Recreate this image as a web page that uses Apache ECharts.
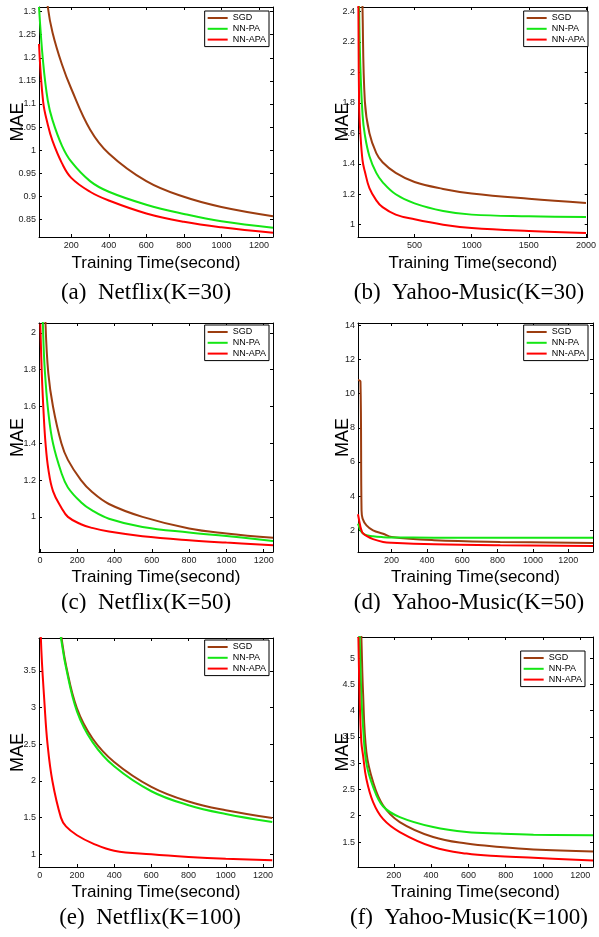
<!DOCTYPE html>
<html>
<head>
<meta charset="UTF-8">
<title>MAE vs Training Time</title>
<script src="https://cdn.jsdelivr.net/npm/echarts@6/dist/echarts.min.js"></script>
<style type="text/css">
html, body {
	width: 100%;
	height: 100%;
	padding: 0px;
	margin: 0px;
	background: #fff;
}
</style>
</head>
<body>
	<div id="chart" style="width: 599px; height: 937px;"></div>

	<script type="text/javascript">
        // series names / colors
        var seriesNames = ['SGD', 'NN-PA', 'NN-APA'];
        var seriesColors = ['#9c3d10', '#14e614', '#ff0000'];

        // (a) Netflix K=30
        var timeA = [28, 50, 75, 100, 150, 200, 300, 400, 600, 800, 1000, 1275];
        var sgdA = [1.6, 1.42, 1.31, 1.255, 1.186, 1.133, 1.045, 0.993, 0.933, 0.899, 0.877, 0.857];
        var paA = [1.31, 1.19, 1.107, 1.065, 1.01, 0.975, 0.933, 0.91, 0.882, 0.862, 0.846, 0.832];
        var apaA = [1.23, 1.105, 1.055, 1.02, 0.972, 0.94, 0.91, 0.891, 0.863, 0.845, 0.833, 0.821];
        var xTicksA = [200, 400, 600, 800, 1000, 1200];
        var yTicksA = [0.85, 0.9, 0.95, 1, 1.05, 1.1, 1.15, 1.2, 1.25, 1.3];

        // (b) Yahoo-Music K=30
        var timeB = [8, 15, 25, 45, 65, 105, 165, 220, 335, 500, 750, 1000, 1500, 2000];
        var sgdB = [5, 4, 3.3, 2.4, 1.81, 1.6, 1.47, 1.41, 1.34, 1.28, 1.235, 1.205, 1.17, 1.142];
        var paB = [3.0, 2.4, 2.05, 1.72, 1.59, 1.45, 1.34, 1.28, 1.2, 1.14, 1.09, 1.066, 1.055, 1.05];
        var apaB = [2.5, 1.78, 1.61, 1.42, 1.35, 1.24, 1.16, 1.115, 1.066, 1.035, 1.0, 0.978, 0.958, 0.945];
        var xTicksB = [500, 1000, 1500, 2000];
        var yTicksB = [1, 1.2, 1.4, 1.6, 1.8, 2, 2.2, 2.4];

        // (c) Netflix K=50
        var timeC = [2, 10, 20, 30, 45, 70, 115, 150, 220, 280, 370, 550, 800, 1000, 1250];
        var sgdC = [4, 3.2, 2.5, 2.05, 1.78, 1.6, 1.4, 1.31, 1.2, 1.135, 1.07, 1.0, 0.937, 0.91, 0.886];
        var paC = [3.0, 2.3, 1.92, 1.74, 1.57, 1.4, 1.24, 1.16, 1.08, 1.035, 0.99, 0.945, 0.915, 0.896, 0.869];
        var apaC = [2.05, 1.78, 1.56, 1.4, 1.26, 1.14, 1.05, 1.0, 0.96, 0.94, 0.92, 0.895, 0.873, 0.86, 0.846];
        var xTicksC = [0, 200, 400, 600, 800, 1000, 1200];
        var yTicksC = [1, 1.2, 1.4, 1.6, 1.8, 2];

        // (d) Yahoo-Music K=50
        var timeD = [10, 24, 30, 36, 58, 95, 152, 200, 440, 815, 1340];
        var sgdD = [10.8, 10.7, 3.2, 2.68, 2.29, 2.0, 1.8, 1.61, 1.42, 1.32, 1.26];
        var paD = [2.39, 2.0, 1.9, 1.84, 1.72, 1.65, 1.6, 1.58, 1.57, 1.56, 1.56];
        var apaD = [2.94, 2.19, 2.0, 1.85, 1.67, 1.48, 1.32, 1.27, 1.18, 1.12, 1.08];
        var xTicksD = [200, 400, 600, 800, 1000, 1200];
        var yTicksD = [2, 4, 6, 8, 10, 12, 14];

        // (e) Netflix K=100
        var timeE = [0, 6, 27, 42, 68, 114, 141, 200, 284, 400, 600, 800, 1000, 1250];
        var sgdE = [9, 8, 6.5, 5.6, 4.7, 4.0, 3.58, 2.99, 2.58, 2.26, 1.92, 1.72, 1.6, 1.495];
        var paE = [9, 7.8, 6.4, 5.5, 4.6, 3.95, 3.55, 2.95, 2.53, 2.2, 1.86, 1.67, 1.55, 1.44];
        var apaE = [5, 3.95, 3.0, 2.5, 2.0, 1.5, 1.38, 1.26, 1.15, 1.05, 1.0, 0.965, 0.94, 0.92];
        var xTicksE = [0, 200, 400, 600, 800, 1000, 1200];
        var yTicksE = [1, 1.5, 2, 2.5, 3, 3.5];

        // (f) Yahoo-Music K=100
        var timeF = [10, 17, 26, 35, 53, 89, 142, 232, 411, 590, 770, 949, 1268];
        var sgdF = [7, 6.2, 5.4, 4.35, 3.21, 2.64, 2.2, 1.88, 1.595, 1.47, 1.405, 1.36, 1.32];
        var paF = [6.5, 5.4, 4.3, 3.7, 3.0, 2.55, 2.18, 1.975, 1.785, 1.69, 1.66, 1.64, 1.627];
        var apaF = [5.4, 4.2, 3.4, 3.15, 2.7, 2.26, 1.94, 1.69, 1.405, 1.28, 1.23, 1.2, 1.15];
        var xTicksF = [200, 400, 600, 800, 1000, 1200];
        var yTicksF = [1.5, 2, 2.5, 3, 3.5, 4, 4.5, 5];

        var captions = ['(a)  Netflix(K=30)', '(b)  Yahoo-Music(K=30)', '(c)  Netflix(K=50)',
                        '(d)  Yahoo-Music(K=50)', '(e)  Netflix(K=100)', '(f)  Yahoo-Music(K=100)'];

        // layout of each subplot
        var panels = [
            {time: timeA, vals: [sgdA, paA, apaA], xr: [28, 1275], yr: [0.812, 1.31], xt: xTicksA, yt: yTicksA,
             box: [39, 7, 234, 230], leg: [330, 11], cap: [146, 281], xGap: 18, yGap: 12},
            {time: timeB, vals: [sgdB, paB, apaB], xr: [5, 2015], yr: [0.919, 2.43], xt: xTicksB, yt: yTicksB,
             box: [358, 7, 235, 230], leg: [11, 11], cap: [469, 281], xGap: 18, yGap: 6},
            {time: timeC, vals: [sgdC, paC, apaC], xr: [-5, 1250], yr: [0.809, 2.054], xt: xTicksC, yt: yTicksC,
             box: [39, 323, 234, 229], leg: [330, 325], cap: [146, 591], xGap: 17, yGap: 12},
            {time: timeD, vals: [sgdD, paD, apaD], xr: [10, 1340], yr: [0.73, 14.13], xt: xTicksD, yt: yTicksD,
             box: [358, 323, 235, 229], leg: [11, 325], cap: [469, 591], xGap: 17, yGap: 6},
            {time: timeE, vals: [sgdE, paE, apaE], xr: [-4, 1254], yr: [0.827, 3.95], xt: xTicksE, yt: yTicksE,
             box: [39, 638, 234, 229], leg: [330, 640], cap: [150, 906], xGap: 17, yGap: 12},
            {time: timeF, vals: [sgdF, paF, apaF], xr: [8, 1268], yr: [1.025, 5.4], xt: xTicksF, yt: yTicksF,
             box: [358, 637, 235, 230], leg: [14, 651], cap: [469, 906], xGap: 17, yGap: 6}
        ];

        var myChart = echarts.init(document.getElementById('chart'));

        var option = {
            animation: false,
            backgroundColor: '#fff',
            textStyle: {fontFamily: 'Liberation Sans'},
            grid: [], xAxis: [], yAxis: [], series: [], legend: [], title: [],
            graphic: [{
                // captions of the middle row are cut off in the original
                type: 'rect', z: 100, shape: {x: 0, y: 613, width: 599, height: 9},
                style: {fill: '#fff'}
            }]
        };

        var black = {color: '#000', width: 1};
        var plain = function(v) { return '' + v; };

        panels.forEach(function(p, i) {
            option.grid.push({left: p.box[0], top: p.box[1], width: p.box[2], height: p.box[3]});

            var xBase = {type: 'value', gridIndex: i, min: p.xr[0], max: p.xr[1],
                splitLine: {show: false},
                axisLine: {onZero: false, lineStyle: black},
                axisTick: {inside: true, length: 3, customValues: p.xt, lineStyle: black}};
            var yBase = {type: 'value', gridIndex: i, min: p.yr[0], max: p.yr[1],
                splitLine: {show: false},
                axisLine: {onZero: false, lineStyle: black},
                axisTick: {inside: true, length: 3, customValues: p.yt, lineStyle: black}};

            option.xAxis.push(Object.assign({}, xBase, {
                position: 'bottom', name: 'Training Time(second)', nameLocation: 'middle', nameGap: p.xGap,
                nameMoveOverlap: false,
                nameTextStyle: {fontSize: 17, color: '#000'},
                axisLabel: {customValues: p.xt, formatter: plain, fontSize: 9, color: '#222', margin: 4}
            }));
            option.xAxis.push(Object.assign({}, xBase, {position: 'top', axisLabel: {show: false}}));

            option.yAxis.push(Object.assign({}, yBase, {
                position: 'left', name: 'MAE', nameLocation: 'middle', nameGap: p.yGap,
                nameMoveOverlap: false,
                nameTextStyle: {fontSize: 18, color: '#000'},
                axisLabel: {customValues: p.yt, formatter: plain, fontSize: 9, color: '#222', margin: 3}
            }));
            option.yAxis.push(Object.assign({}, yBase, {position: 'right', axisLabel: {show: false}}));

            p.vals.forEach(function(v, k) {
                option.series.push({
                    type: 'line', name: seriesNames[k],
                    xAxisIndex: 2 * i, yAxisIndex: 2 * i,
                    data: p.time.map(function(t, j) { return [t, v[j]]; }),
                    symbol: 'none', smooth: 0.4, silent: true,
                    lineStyle: {color: seriesColors[k], width: 2},
                    itemStyle: {color: seriesColors[k]}
                });
            });

            option.legend.push({
                data: seriesNames, orient: 'vertical', right: p.leg[0], top: p.leg[1],
                icon: 'rect', itemWidth: 20, itemHeight: 2, itemGap: 1.8, padding: [2.5, 3, 2.5, 3],
                backgroundColor: '#fff', borderColor: '#000', borderWidth: 1, borderRadius: 0,
                selectedMode: false,
                textStyle: {fontSize: 9, color: '#000'}
            });

            option.title.push({
                text: captions[i], left: p.cap[0], top: p.cap[1], textAlign: 'center', padding: 0,
                textStyle: {fontFamily: 'Liberation Serif', fontWeight: 'normal', fontSize: 23, color: '#000'}
            });
        });

        myChart.setOption(option);
	</script>
</body>
</html>
